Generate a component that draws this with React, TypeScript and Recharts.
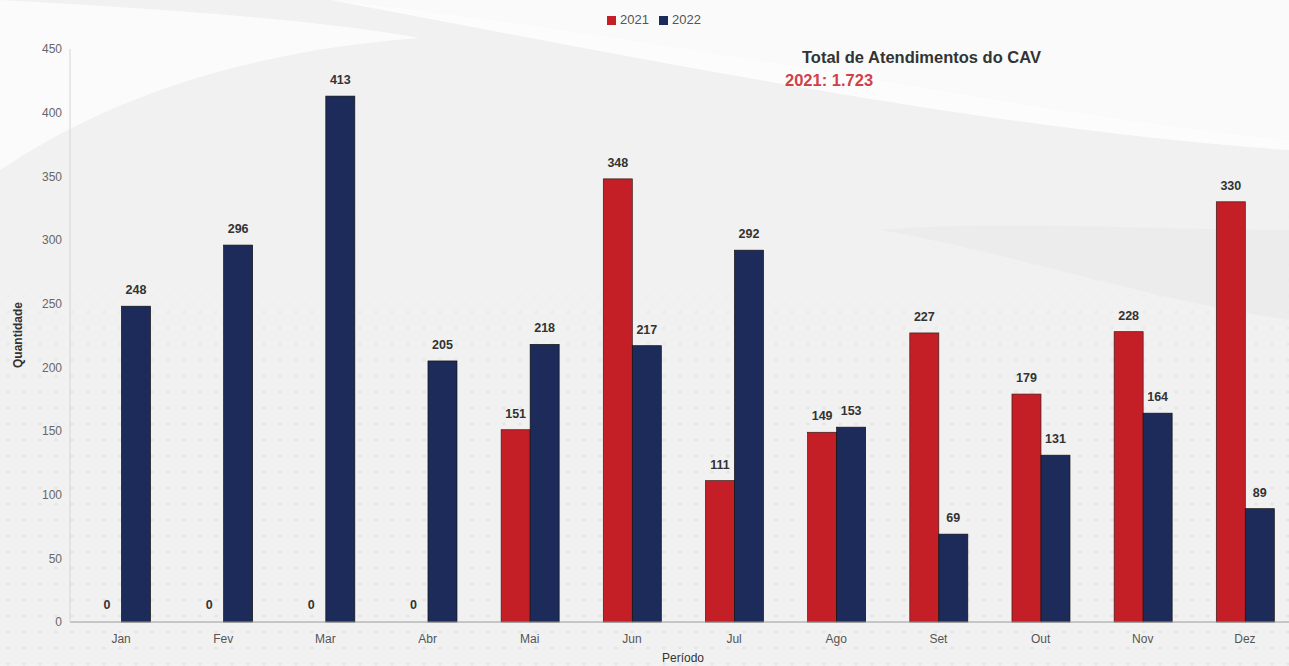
import React from "react";
import { BarChart, Bar, XAxis, YAxis, Legend, LabelList } from "recharts";

const months = ["Jan", "Fev", "Mar", "Abr", "Mai", "Jun", "Jul", "Ago", "Set", "Out", "Nov", "Dez"];
const values2021 = [0, 0, 0, 0, 151, 348, 111, 149, 227, 179, 228, 330];
const values2022 = [248, 296, 413, 205, 218, 217, 292, 153, 69, 131, 164, 89];
const yTicks = [0, 50, 100, 150, 200, 250, 300, 350, 400, 450];

const data = months.map((m, i) => ({ month: m, y2021: values2021[i], y2022: values2022[i] }));

const FONT = "'Liberation Sans', Arial, sans-serif";
const RED = "#c41f27";
const BLUE = "#1c2b59";

const renderLabel = (props: any) => {
  const { x, y, width, value } = props;
  return (
    <text
      x={x + width / 2}
      y={y - 12}
      textAnchor="middle"
      fontFamily={FONT}
      fontSize={12.5}
      fontWeight="bold"
      fill="#333"
    >
      {value}
    </text>
  );
};

const makeShape = (fill: string, stroke: string) => (props: any) => {
  const { x, y, width, height, value } = props;
  const v = Array.isArray(value) ? value[1] - value[0] : value;
  if (!v) return <g />;
  return <rect x={x} y={y} width={width} height={height} fill={fill} stroke={stroke} strokeWidth={0.7} />;
};

export default function App() {
  return (
    <div style={{ position: "absolute", left: 0, top: 0, width: 1289, height: 666, overflow: "hidden", background: "#f1f1f1", fontFamily: FONT }}>
      <svg width={1289} height={666} style={{ position: "absolute", left: 0, top: 0 }}>
        <defs>
          <pattern id="dots" width="16" height="16" patternUnits="userSpaceOnUse">
            <circle cx="8" cy="8" r="1.6" fill="#e4e4e4" />
          </pattern>
          <linearGradient id="fadeTop" x1="0" y1="0" x2="0" y2="1">
            <stop offset="0" stopColor="#f1f1f1" stopOpacity="1" />
            <stop offset="0.45" stopColor="#f1f1f1" stopOpacity="1" />
            <stop offset="1" stopColor="#f1f1f1" stopOpacity="0" />
          </linearGradient>
        </defs>
        <rect x={0} y={0} width={1289} height={666} fill="url(#dots)" />
        <rect x={0} y={0} width={1289} height={420} fill="url(#fadeTop)" />
        <path d="M0,0 L1289,0 L1289,140 C1000,110 700,40 330,0 Z" fill="#fafafa" />
        <path d="M0,170 C120,90 260,50 420,38 C320,20 180,10 0,0 Z" fill="#fbfbfb" />
        <path d="M330,0 C700,40 1000,110 1289,140 L1289,150 C1000,130 700,70 330,0 Z" fill="#ffffff" opacity="0.8" />
        <path d="M880,230 C1000,250 1150,300 1289,320 L1289,230 C1150,230 1000,220 880,230 Z" fill="#e9e9e9" opacity="0.6" />
      </svg>
      <div style={{ position: "absolute", left: 0, top: 0 }}>
        <BarChart
          width={1296}
          height={666}
          data={data}
          margin={{ top: 34, right: 0, left: 10, bottom: 14 }}
          barCategoryGap="22%"
          barGap={0}
        >
          <Legend
            verticalAlign="top"
            align="center"
            iconType="square"
            iconSize={9}
            wrapperStyle={{ top: 12, left: 16, fontSize: 13, fontFamily: FONT }}
            formatter={(v: any) => <span style={{ color: "#555" }}>{v}</span>}
          />
          <XAxis
            dataKey="month"
            tickLine={false}
            axisLine={{ stroke: "#9a9a9a" }}
            tick={{ fontSize: 12, fill: "#555", fontFamily: FONT }}
            tickMargin={6}
            height={30}
          />
          <YAxis
            width={60}
            domain={[0, 450]}
            ticks={yTicks}
            tickLine={false}
            axisLine={{ stroke: "#d4d4d4" }}
            tick={{ fontSize: 12, fill: "#666", fontFamily: FONT }}
            tickMargin={2}
          />
          <Bar dataKey="y2021" name="2021" fill={RED} minPointSize={1} shape={makeShape(RED, "#3a1a1a")} isAnimationActive={false}>
            <LabelList dataKey="y2021" content={renderLabel} />
          </Bar>
          <Bar dataKey="y2022" name="2022" fill={BLUE} minPointSize={1} shape={makeShape(BLUE, "#111")} isAnimationActive={false}>
            <LabelList dataKey="y2022" content={renderLabel} />
          </Bar>
        </BarChart>
      </div>
      <svg width={1289} height={666} style={{ position: "absolute", left: 0, top: 0, pointerEvents: "none" }}>
        <text x={22} y={335} transform="rotate(-90 22 335)" textAnchor="middle" fontFamily={FONT} fontSize={12} fontWeight="bold" fill="#333">
          Quantidade
        </text>
        <text x={683} y={662} textAnchor="middle" fontFamily={FONT} fontSize={12} fill="#333">
          Período
        </text>
      </svg>
      <div style={{ position: "absolute", left: 802, top: 48, fontSize: 16.5, fontWeight: "bold", color: "#333", whiteSpace: "nowrap" }}>
        Total de Atendimentos do CAV
      </div>
      <div style={{ position: "absolute", left: 785, top: 71, fontSize: 16.5, fontWeight: "bold", color: "#d1404b", whiteSpace: "nowrap" }}>
        2021: 1.723
      </div>
    </div>
  );
}
